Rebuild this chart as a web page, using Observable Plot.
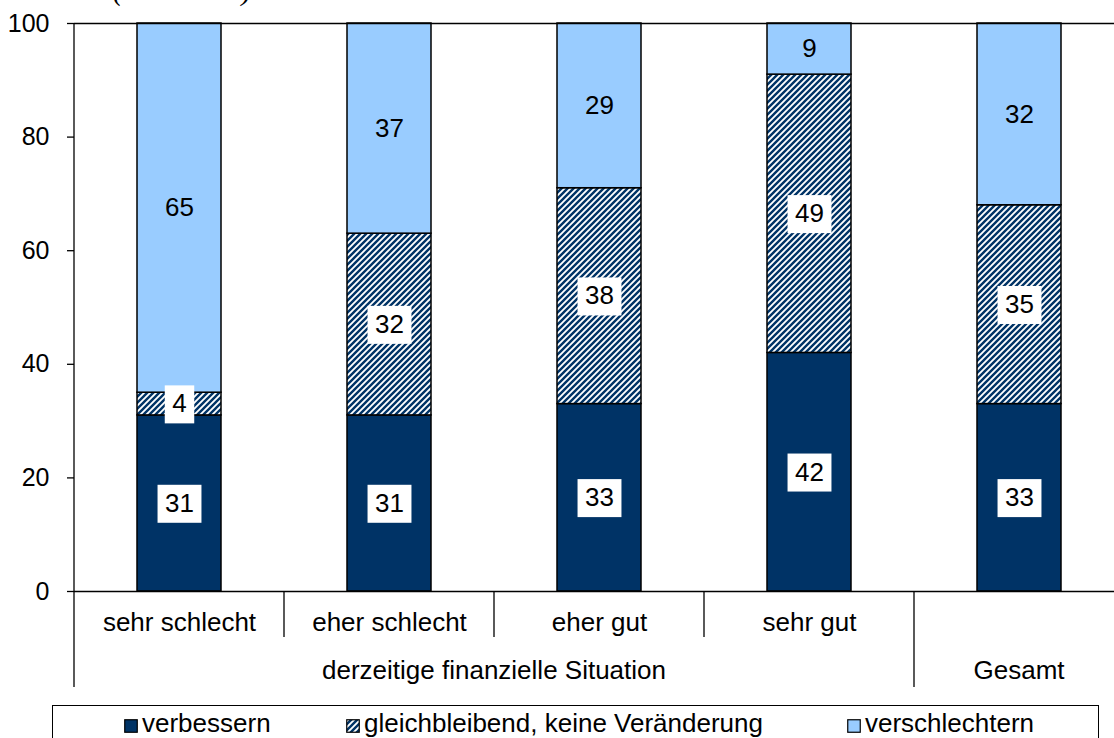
<!DOCTYPE html>
<html>
<head>
<meta charset="utf-8">
<script src="https://cdn.jsdelivr.net/npm/d3@7"></script>
<script src="https://cdn.jsdelivr.net/npm/@observablehq/plot@0.6"></script>
<style>
  body { margin: 0; background: #fff; overflow: hidden; }
  #wrap { position: relative; width: 1114px; height: 738px; overflow: hidden; font-family: "Liberation Sans", Arial, sans-serif; }
  #title { position: absolute; left: 113px; top: -24px; font: italic 29px/29px "Liberation Serif", "Times New Roman", serif; white-space: nowrap; }
  #legend { position: absolute; left: 52px; top: 705px; width: 1047px; height: 60px; border: 1.5px solid #000; box-sizing: border-box; background: #fff; }
  .li { position: absolute; top: 0; height: 40px; }
  .li svg { position: absolute; top: 13px; left: 0; }
  .li span { position: absolute; top: 4px; left: 18px; font-size: 26px; line-height: 26px; white-space: nowrap; }
</style>
</head>
<body>
<div id="wrap">
  <div id="title">(in Prozent)</div>
  <div id="legend"></div>
</div>
<script>
// ---- data ----
const categories = ["sehr schlecht", "eher schlecht", "eher gut", "sehr gut", "Gesamt"];
const categoryGroup = ["derzeitige finanzielle Situation", "derzeitige finanzielle Situation", "derzeitige finanzielle Situation", "derzeitige finanzielle Situation", "Gesamt"];
const groups = ["derzeitige finanzielle Situation", "Gesamt"];
const series = ["verbessern", "gleichbleibend, keine Veränderung", "verschlechtern"];
const verbessern = [31, 31, 33, 42, 33];
const gleichbleibend = [4, 32, 38, 49, 35];
const verschlechtern = [65, 37, 29, 9, 32];
const yTicks = [0, 20, 40, 60, 80, 100];

const seriesValues = [verbessern, gleichbleibend, verschlechtern];
const rows = [];
series.forEach((s, si) => categories.forEach((c, ci) => rows.push({category: c, series: s, value: seriesValues[si][ci]})));

const NAVY = "#003366", LIGHT = "#99CCFF";
const colorRange = [NAVY, "url(#hatch)", LIGHT];
const FS = 26;

function decor(index, scales) {
  const x = scales.x, y = scales.y;
  const bw = typeof x.bandwidth === "function" ? x.bandwidth() : x.bandwidth;
  const step = typeof x.step === "function" ? x.step() : x.step;
  const pad = (step - bw) / 2;
  const y0 = y(0), yTop = y(100);
  const g = d3.create("svg:g");
  const defs = g.append("defs");
  const p = defs.append("pattern").attr("id", "hatch").attr("patternUnits", "userSpaceOnUse").attr("width", 6).attr("height", 6);
  p.append("rect").attr("width", 6).attr("height", 6).attr("fill", "#fff");
  p.append("path").attr("d", "M-1,1 L1,-1 M0,6 L6,0 M5,7 L7,5").attr("stroke", NAVY).attr("stroke-width", 2.4);
  // separators
  categories.forEach((c, i) => {
    const left = x(c) - pad;
    const groupStart = i === 0 || categoryGroup[i] !== categoryGroup[i - 1];
    g.append("line").attr("x1", left).attr("x2", left)
      .attr("y1", i === 0 ? yTop : y0).attr("y2", y0 + (groupStart ? 96 : 46))
      .attr("stroke", "#000").attr("stroke-width", 1.3);
  });
  // group labels
  groups.forEach(gr => {
    const cats = categories.filter((c, i) => categoryGroup[i] === gr);
    const x1 = x(cats[0]) - pad, x2 = x(cats[cats.length - 1]) + bw + pad;
    g.append("text").attr("x", (x1 + x2) / 2).attr("y", y0 + 79).attr("dy", "0.35em")
      .attr("text-anchor", "middle").attr("font-size", FS).attr("fill", "#000").text(gr);
  });
  return g.node();
}

const plot = Plot.plot({
  width: 1114,
  height: 738,
  marginLeft: 74,
  marginRight: 0,
  marginTop: 23,
  marginBottom: 147,
  style: {fontFamily: "'Liberation Sans', Arial, sans-serif", fontSize: FS + "px", color: "#000", background: "#fff", overflow: "visible"},
  x: {domain: categories, range: [74, 1124], paddingInner: 0.6, paddingOuter: 0.3, axis: null},
  y: {domain: [0, 100], range: [591, 23], axis: null},
  color: {domain: series, range: colorRange},
  marks: [
    decor,
    Plot.barY(rows, {x: "category", y: "value", fill: "series", stroke: "#000", strokeWidth: 1.5}),
    Plot.ruleY([0, 100], {stroke: "#000", strokeWidth: 1.3}),
    Plot.axisY({ticks: yTicks, tickSize: 7, tickPadding: 18, fontSize: 25, label: null, stroke: "#000", strokeWidth: 1.3}),
    Plot.axisX({tickSize: 0, tickPadding: 21, fontSize: FS, label: null, tickFormat: d => d === "Gesamt" ? "" : d}),
    Plot.text(rows, Plot.stackY({x: "category", y: "value", z: "series", text: d => d.series === "verschlechtern" ? "" : String(d.value), fontSize: FS, fill: "#000", className: "boxed", ariaDescription: "boxed"})),
    Plot.text(rows, Plot.stackY({x: "category", y: "value", z: "series", text: d => d.series === "verschlechtern" ? String(d.value) : "", fontSize: FS, fill: "#000"}))
  ]
});

const wrap = document.getElementById("wrap");
wrap.insertBefore(plot, wrap.firstChild);
plot.style.position = "absolute";
plot.style.left = "0";
plot.style.top = "0";

// white boxes behind labels
const boxedTexts = plot.querySelectorAll("g.boxed text, g[aria-description='boxed'] text");
const seen = new Set();
boxedTexts.forEach(t => {
  if (seen.has(t)) return; seen.add(t);
  if (!t.textContent) return;
  const b = t.getBBox();
  const r = document.createElementNS("http://www.w3.org/2000/svg", "rect");
  const tr = t.getAttribute("transform");
  if (tr) r.setAttribute("transform", tr);
  const cx = b.x + b.width / 2, cy = b.y + b.height / 2;
  const w = b.width + 15, h = 38;
  r.setAttribute("x", cx - w / 2);
  r.setAttribute("y", cy - h / 2 + 1);
  r.setAttribute("width", w);
  r.setAttribute("height", h);
  r.setAttribute("fill", "#fff");
  t.parentNode.insertBefore(r, t);
});

// legend
const legend = document.getElementById("legend");
const itemLeft = [123, 345, 846];
series.forEach((s, i) => {
  const div = document.createElement("div");
  div.className = "li";
  div.style.left = (itemLeft[i] - 52) + "px";
  const fill = i === 1 ? "url(#hatch)" : colorRange[i];
  div.innerHTML = `<svg width="14" height="14"><rect x="0.75" y="0.75" width="12.5" height="12.5" fill="${fill}" stroke="#000" stroke-width="1.2"/></svg><span>${s}</span>`;
  legend.appendChild(div);
});
</script>
</body>
</html>
